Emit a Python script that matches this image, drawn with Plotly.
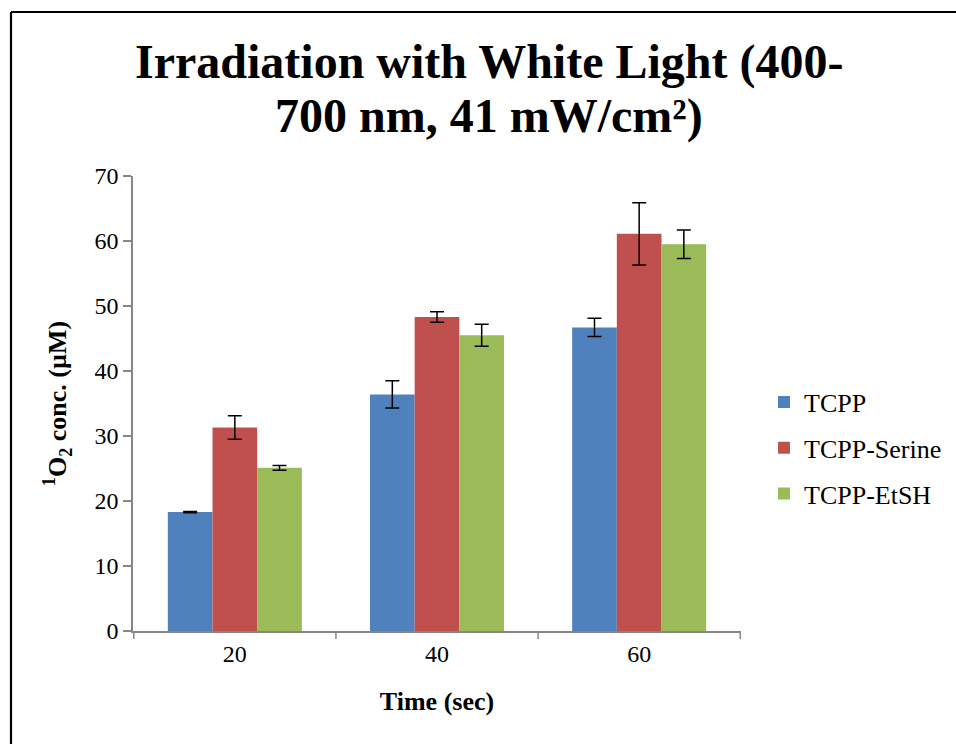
import plotly.graph_objects as go

# Irradiation time points (s)
times = ["20", "40", "60"]

# Singlet oxygen concentration (µM) and standard deviations
tcpp = [18.3, 36.4, 46.7]
tcpp_err = [0.1, 2.1, 1.4]
serine = [31.3, 48.3, 61.1]
serine_err = [1.8, 0.8, 4.8]
etsh = [25.1, 45.5, 59.5]
etsh_err = [0.35, 1.7, 2.2]

series_names = ["TCPP", "TCPP-Serine", "TCPP-EtSH"]
colors = ["#4F81BD", "#C0504D", "#9BBB59"]

y_ticks = [0, 10, 20, 30, 40, 50, 60, 70]

# plot area in pixels: x 133..741, y 176..631
L, R, T, B = 133, 741, 176, 631
W, H = 956, 744


def px_x(px):
    return (px - L) / (R - L)


def px_y(py):
    return (B - py) / (B - T)


serif = "Liberation Serif"

fig = go.Figure()
for i, (name, vals, errs) in enumerate(zip(series_names, [tcpp, serine, etsh],
                                           [tcpp_err, serine_err, etsh_err])):
    fig.add_trace(go.Bar(
        x=times, y=vals, name=name,
        marker=dict(color=colors[i], line=dict(width=0)),
        error_y=dict(type="data", array=errs, visible=True,
                     color="black", thickness=1.5, width=7),
        legendgroup=f"g{i}",
    ))

fig.update_layout(
    width=W, height=H,
    margin=dict(l=L, r=W - R, t=T, b=H - B, pad=0, autoexpand=False),
    paper_bgcolor="white", plot_bgcolor="white",
    barmode="group", bargap=0.337, bargroupgap=0,
    font=dict(family=serif, color="black", size=24),
    showlegend=True,
    legend=dict(
        x=px_x(764), xanchor="left", y=px_y(448), yanchor="middle",
        font=dict(family=serif, size=26, color="black"),
        tracegroupgap=9, bgcolor="rgba(0,0,0,0)",
    ),
    xaxis=dict(
        type="category",
        showline=True, linecolor="#868686", linewidth=1.5,
        ticks="", tickfont=dict(family=serif, size=24, color="black"),
        showgrid=False, zeroline=False,
        title=dict(text="<b>Time (sec)</b>",
                   font=dict(family=serif, size=26, color="black"),
                   standoff=26),
    ),
    yaxis=dict(
        range=[0, 70], tickvals=y_ticks,
        showline=True, linecolor="#868686", linewidth=1.5,
        ticks="outside", ticklen=8, tickcolor="#868686", tickwidth=1.5,
        tickfont=dict(family=serif, size=24, color="black"),
        showgrid=False, zeroline=False,
        title=dict(text="<b><sup>1</sup>O<sub>2</sub> conc. (µM)</b>",
                   font=dict(family=serif, size=26, color="black"),
                   standoff=20),
    ),
)

# category separator ticks below the x axis
for k in range(len(times) + 1):
    fig.add_shape(type="line", xref="x", yref="paper",
                  x0=k - 0.5, x1=k - 0.5, y0=0, y1=-8 / (B - T),
                  line=dict(color="#868686", width=1.5))

# two-line title
title_lines = ["<b>Irradiation with White Light (400-</b>",
               "<b>700 nm, 41 mW/cm²)</b>"]
for line, py in zip(title_lines, [62, 116]):
    fig.add_annotation(text=line, xref="paper", yref="paper",
                       x=px_x(489), y=px_y(py), xanchor="center",
                       yanchor="middle", showarrow=False,
                       font=dict(family=serif, size=48, color="black"))

# outer frame (left and top edges)
for x0, y0, x1, y1 in [(11, 12, 11, 760), (11, 12, 970, 12)]:
    fig.add_shape(type="line", xref="paper", yref="paper",
                  x0=px_x(x0), x1=px_x(x1), y0=px_y(y0), y1=px_y(y1),
                  line=dict(color="black", width=2.2), layer="above")

fig.write_html("out.html", config={"displayModeBar": False})
